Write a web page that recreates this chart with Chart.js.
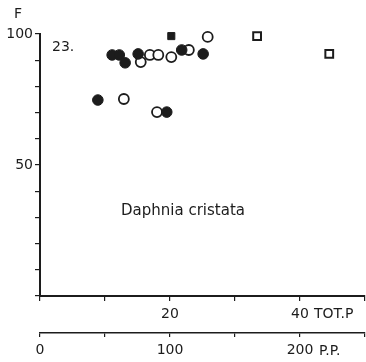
<!DOCTYPE html>
<html>
<head>
<meta charset="utf-8">
<script src="https://cdn.jsdelivr.net/npm/chart.js@4.4.0/dist/chart.umd.min.js"></script>
<style>
  body { margin: 0; background: #fff; }
  #wrap { width: 366px; height: 362px; }
</style>
</head>
<body>
<div id="wrap"><canvas id="scatter-chart" width="366" height="362"></canvas></div>
<script>
// TOT.P on x, F (%) on y
const filledCircleX = [8.9, 11.1, 12.2, 13.1, 15.1, 19.5, 21.8, 25.1];
const filledCircleY = [74.8, 92, 92, 89, 92.4, 70.2, 93.9, 92.4];
const openCircleX = [12.9, 18.0, 15.5, 16.9, 18.2, 20.2, 22.9, 25.8];
const openCircleY = [75.2, 70.2, 89.3, 92, 92, 91.2, 93.9, 98.9];
const filledSquareX = [20.2];
const filledSquareY = [99.2];
const openSquareX = [33.4, 44.5];
const openSquareY = [99.2, 92.4];

const yLabels = [50, 100];
const xLabels = [20, 40];
const ppLabels = [0, 100, 200];

const ink = '#1c1c1c';
const font = { family: 'DejaVu Sans', size: 14 };

function pts(xs, ys) {
    return xs.map((x, i) => ({ x: x, y: ys[i] }));
}

// extra labels on the figure
const textPlugin = {
    id: 'figText',
    afterDraw(chart) {
        const ctx = chart.ctx;
        ctx.save();
        ctx.fillStyle = ink;
        ctx.font = '14px "DejaVu Sans"';
        ctx.textBaseline = 'middle';
        ctx.textAlign = 'left';
        ctx.fillText('F', 14, 14);
        ctx.fillText('23.', 52, 47);
        ctx.fillText('TOT.P', 314, 314);
        ctx.fillText('P.P.', 319, 351);
        ctx.textAlign = 'center';
        ctx.font = '15px "DejaVu Sans"';
        ctx.fillText('Daphnia cristata', 183, 211);
        ctx.restore();
    }
};

function fixBottom(h) {
    return function(scale) {
        scale.height = h;
        scale.paddingLeft = 0;
        scale.paddingRight = 0;
    };
}

const ctx = document.getElementById('scatter-chart').getContext('2d');
new Chart(ctx, {
    type: 'scatter',
    data: {
        datasets: [
            {
                label: 'open circles',
                data: pts(openCircleX, openCircleY),
                pointStyle: 'circle',
                pointRadius: 5,
                borderWidth: 1.8,
                borderColor: ink,
                backgroundColor: '#fff',
                clip: false,
                order: 2
            },
            {
                label: 'filled circles',
                data: pts(filledCircleX, filledCircleY),
                pointStyle: 'circle',
                pointRadius: 5.3,
                borderWidth: 1,
                borderColor: ink,
                backgroundColor: ink,
                clip: false,
                order: 1
            },
            {
                label: 'filled squares',
                data: pts(filledSquareX, filledSquareY),
                pointStyle: 'rect',
                pointRadius: 5,
                borderWidth: 1,
                borderColor: ink,
                backgroundColor: ink,
                clip: false,
                order: 1
            },
            {
                label: 'open squares',
                data: pts(openSquareX, openSquareY),
                pointStyle: 'rect',
                pointRadius: 5.5,
                borderWidth: 2,
                borderColor: ink,
                backgroundColor: '#fff',
                clip: false,
                order: 1
            }
        ]
    },
    options: {
        responsive: false,
        animation: false,
        layout: { autoPadding: false, padding: { top: 34, right: 1, left: 0, bottom: 0 } },
        plugins: {
            legend: { display: false },
            tooltip: { enabled: false }
        },
        scales: {
            y: {
                min: 0,
                max: 100,
                afterFit(scale) { scale.width = 40; },
                border: { display: true, color: ink, width: 2 },
                grid: { drawOnChartArea: false, drawTicks: true, tickLength: 5, color: ink, lineWidth: 1.2 },
                ticks: {
                    stepSize: 10,
                    padding: 2,
                    color: ink,
                    font: font,
                    callback: v => yLabels.includes(v) ? String(v) : ''
                }
            },
            x: {
                type: 'linear',
                position: 'bottom',
                weight: 0,
                min: 0,
                max: 50,
                afterFit: fixBottom(37),
                border: { display: true, color: ink, width: 2 },
                grid: { drawOnChartArea: false, drawTicks: true, tickLength: 5, color: ink, lineWidth: 1.2 },
                ticks: {
                    stepSize: 10,
                    padding: 5,
                    color: ink,
                    font: font,
                    maxRotation: 0,
                    callback: v => xLabels.includes(v) ? String(v) : ''
                }
            },
            x2: {
                type: 'linear',
                position: 'bottom',
                weight: 1,
                min: 0,
                max: 250,
                afterFit: fixBottom(29),
                border: { display: true, color: ink, width: 1.5 },
                grid: { drawOnChartArea: false, drawTicks: true, tickLength: 4, color: ink, lineWidth: 1.2 },
                ticks: {
                    stepSize: 50,
                    padding: 5,
                    color: ink,
                    font: font,
                    maxRotation: 0,
                    callback: v => ppLabels.includes(v) ? String(v) : ''
                }
            }
        }
    },
    plugins: [textPlugin]
});
</script>
</body>
</html>
